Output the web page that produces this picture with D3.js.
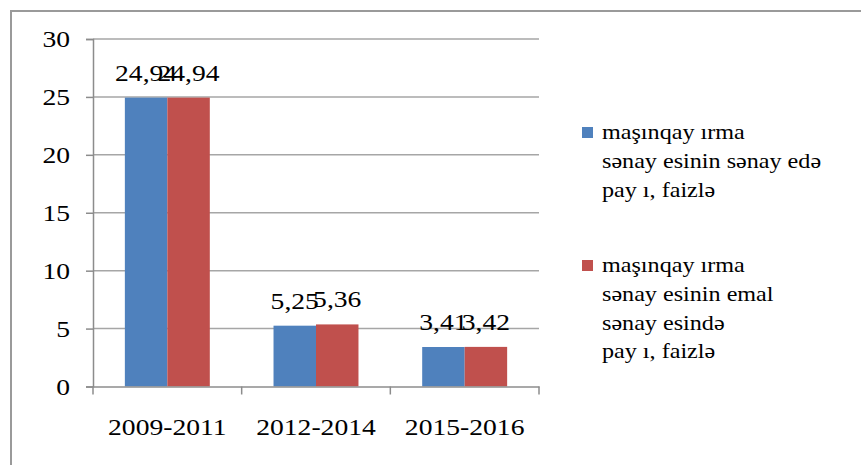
<!DOCTYPE html>
<html><head><meta charset="utf-8">
<script src="https://cdn.jsdelivr.net/npm/d3@7"></script>
<style>html,body{margin:0;padding:0;background:#fff;}svg{display:block;} text{font-family:"Liberation Serif","Times New Roman",serif;}</style>
</head><body>
<svg id="c" width="861" height="465"></svg>
<script>
const categories = ["2009-2011", "2012-2014", "2015-2016"];
const seriesA = [24.94, 5.25, 3.41];
const seriesB = [24.94, 5.36, 3.42];
const seriesLabels = [
  ["maşınqay ırma", "sənay esinin sənay edə", "pay ı, faizlə"],
  ["maşınqay ırma", "sənay esinin emal", "sənay esində", "pay ı, faizlə"]
];
const seriesColors = ["#4F81BD", "#C0504D"];
const yTicks = [0, 5, 10, 15, 20, 25, 30];

(function () {
const svg = d3.select("#c");
const SX = 1.15;
function txt(parent, x, y, s, size, anchor) {
  const g = parent.append("g").attr("transform", `translate(${x},${y}) scale(${SX},1)`);
  g.append("text").attr("x", 0).attr("y", 0).attr("text-anchor", anchor || "start")
    .style("font-size", size + "px").attr("fill", "#000").text(s);
  return g;
}

// outer frame (top and left edges visible)
svg.append("path").attr("d", "M11,465 L11,11 L861,11").attr("fill", "none")
  .attr("stroke", "#9a9a9a").attr("stroke-width", 2);

const pL = 93, pR = 539, pT = 39, pB = 386.5;
const x = d3.scaleBand().domain(categories).range([pL, pR]).padding(0);
const y = d3.scaleLinear().domain([0, 30]).range([pB, pT]);

// gridlines + y axis ticks
svg.append("g").selectAll("line").data(yTicks.filter(d => d > 0)).join("line")
  .attr("x1", pL).attr("x2", pR).attr("y1", d => y(d)).attr("y2", d => y(d))
  .attr("stroke", "#a6a6a6").attr("stroke-width", 1.5);
const yAxis = d3.axisLeft(y).tickValues(yTicks).tickSize(7).tickFormat("");
const gy = svg.append("g").attr("transform", `translate(${pL},0)`).call(yAxis);
gy.select(".domain").attr("stroke", "#8c8c8c").attr("stroke-width", 1.5);
gy.selectAll(".tick line").attr("stroke", "#8c8c8c").attr("stroke-width", 1.5);
yTicks.forEach(t => txt(svg, 70, y(t) + 8, String(t), 24, "end"));

// bars
const bw = x.bandwidth() / 3.5;
const off = x.bandwidth() * 0.75 / 3.5;
[seriesA, seriesB].forEach((vals, si) => {
  svg.append("g").selectAll("rect").data(vals).join("rect")
    .attr("x", (d, i) => x(categories[i]) + off + si * bw)
    .attr("y", d => y(d)).attr("width", bw).attr("height", d => y(0) - y(d))
    .attr("fill", seriesColors[si]);
});

// x axis
const xAxis = d3.axisBottom(x).tickSize(0).tickFormat("");
const gx = svg.append("g").attr("transform", `translate(0,${pB})`).call(xAxis);
gx.select(".domain").attr("stroke", "#8c8c8c").attr("stroke-width", 1.5);
const bounds = [pL].concat(categories.map(c => x(c) + x.bandwidth()));
svg.append("g").selectAll("line").data(bounds).join("line")
  .attr("x1", d => d).attr("x2", d => d).attr("y1", pB).attr("y2", pB + 8)
  .attr("stroke", "#8c8c8c").attr("stroke-width", 1.5);
categories.forEach(c => txt(svg, x(c) + x.bandwidth() / 2, 435, c, 24, "middle"));

// data labels
[seriesA, seriesB].forEach((vals, si) => {
  vals.forEach((v, i) => {
    const cx = x(categories[i]) + off + si * bw + bw / 2;
    txt(svg, cx, y(v) - 17, v.toFixed(2).replace(".", ","), 24, "middle");
  });
});

// legend
const legendTops = [127, 260];
seriesLabels.forEach((lines, si) => {
  svg.append("rect").attr("x", 582).attr("y", legendTops[si]).attr("width", 11).attr("height", 11)
    .attr("fill", seriesColors[si]);
  lines.forEach((ln, li) => txt(svg, 602, legendTops[si] + 12 + li * 28.8, ln, 21, "start"));
});
})();
</script>
</body></html>
